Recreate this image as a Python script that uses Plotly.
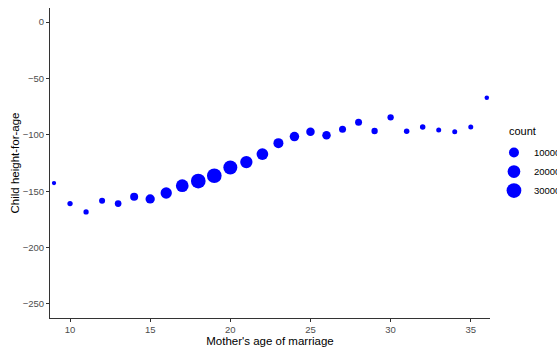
import plotly.graph_objects as go
import numpy as np

# Data
ages = list(range(9, 37))
heights = [-142.8, -161.0, -168.4, -158.4, -161.0, -154.9, -156.9, -151.6, -145.1,
           -141.0, -136.3, -129.0, -124.2, -117.1, -107.4, -101.6, -97.2, -100.4,
           -95.0, -88.8, -96.6, -84.5, -96.9, -93.0, -95.7, -97.2, -93.0, -67.1]
counts = [150, 770, 770, 1500, 2400, 4800, 8000, 14400, 20000, 29700, 29500, 26000,
          18300, 15900, 10000, 8500, 5900, 5900, 2900, 2900, 1900, 1900, 950, 950,
          530, 530, 530, 240]
legend_counts = [10000, 20000, 30000]
legend_labels = ["10000", "20000", "30000"]
legend_title = "count"


def size_scale(c):
    # area-like size scale: diameter (px) grows with sqrt(count)
    return 3.5 + 0.065 * np.sqrt(np.asarray(c, dtype=float))


fig = go.Figure()
fig.add_trace(go.Scatter(
    x=ages, y=heights, mode="markers",
    marker=dict(color="#0000FF", opacity=1, size=size_scale(counts), line=dict(width=0)),
    showlegend=False, hoverinfo="x+y"))

for c, lab in zip(legend_counts, legend_labels):
    fig.add_trace(go.Scatter(
        x=[None], y=[None], mode="markers", name=lab,
        marker=dict(color="#0000FF", opacity=1, size=float(size_scale(c)), line=dict(width=0))))

font = "Liberation Sans, Arial, Helvetica, sans-serif"
fig.update_layout(
    width=557, height=350,
    margin=dict(l=50, r=67, t=8, b=32, autoexpand=False),
    paper_bgcolor="white", plot_bgcolor="white",
    font=dict(family=font, size=11, color="black"),
    showlegend=True,
    legend=dict(
        x=1.009, xanchor="left", y=0.5805, yanchor="top",
        font=dict(size=9.5, color="black"),
        itemsizing="trace", tracegroupgap=0,
        bgcolor="rgba(0,0,0,0)"),
    annotations=[dict(
        text=legend_title, xref="paper", yref="paper", x=1.0386, y=0.603,
        xanchor="left", yanchor="middle", showarrow=False,
        font=dict(size=11, color="black"))],
)
fig.update_xaxes(
    range=[8.75, 36.2], tickvals=[10, 15, 20, 25, 30, 35],
    showgrid=False, zeroline=False,
    showline=True, linecolor="#333333", linewidth=1.1,
    ticks="outside", ticklen=3, tickcolor="#333333", tickwidth=1,
    tickfont=dict(size=9.5, color="#4D4D4D"),
    title=dict(text="Mother's age of marriage", font=dict(size=11.5, color="black"), standoff=1),
)
fig.update_yaxes(
    range=[-262.5, 12.5], tickvals=[0, -50, -100, -150, -200, -250],
    showgrid=False, zeroline=False,
    showline=True, linecolor="#333333", linewidth=1.1,
    ticks="outside", ticklen=3, tickcolor="#333333", tickwidth=1,
    tickfont=dict(size=9.5, color="#4D4D4D"),
    title=dict(text="Child height-for-age", font=dict(size=11.5, color="black"), standoff=0),
)

fig.write_html("out.html")
